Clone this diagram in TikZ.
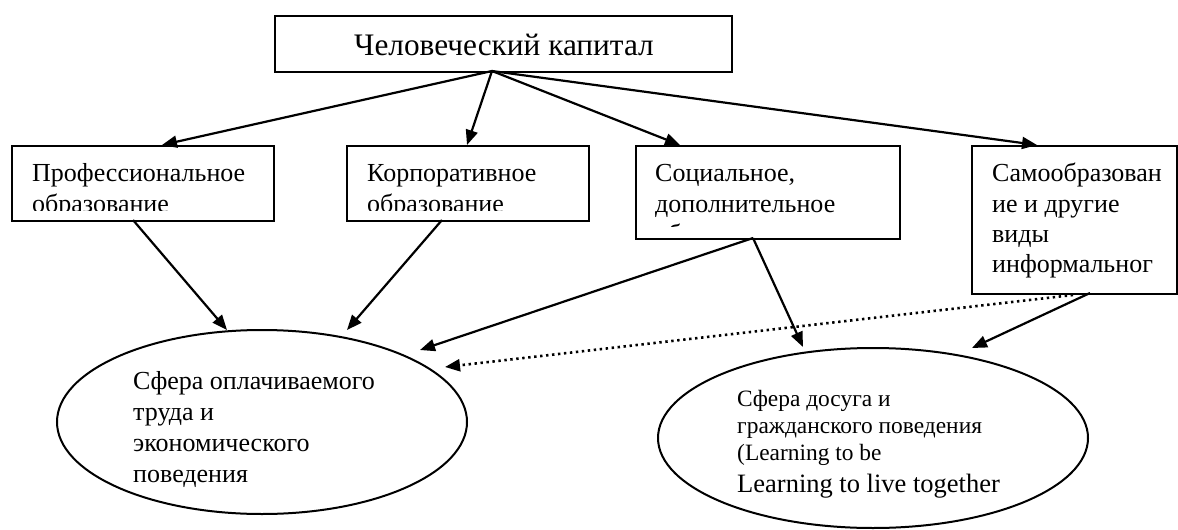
\documentclass[tikz,border=0pt]{standalone}
\usepackage{fontspec}
\setmainfont{Liberation Serif}
\usetikzlibrary{arrows.meta,shapes.geometric}
\begin{document}
\begin{tikzpicture}[x=1pt,y=-1pt,
  boxst/.style={draw, line width=2pt, inner sep=0pt, anchor=north west},
  ellst/.style={draw, ellipse, line width=2pt, inner sep=0pt},
  txt/.style={inner sep=0pt, anchor=base west, font=\fontsize{26}{30}\selectfont},
  txts/.style={inner sep=0pt, anchor=base west, font=\fontsize{23.4}{27}\selectfont},
  arr/.style={line width=2.2pt, -{Triangle[length=15pt,width=12pt]}},
  dotarr/.style={line width=2.6pt, dash pattern=on 2.4pt off 3.6pt, -{Triangle[length=15pt,width=12pt]}}]
\useasboundingbox (0,0) rectangle (1178,530);

% top box
\node[boxst, minimum width=457pt, minimum height=56pt] (top) at (274,15) {};
\node[inner sep=0pt, anchor=base, font=\fontsize{31.3}{36}\selectfont] (toptxt) at (504,55) {Человеческий капитал};

% level boxes
\node[boxst, minimum width=262pt, minimum height=75pt] (b1) at (11,145) {};
\node[boxst, minimum width=242pt, minimum height=75pt] (b2) at (346,145) {};
\node[boxst, minimum width=264pt, minimum height=93pt] (b3) at (635,145) {};
\node[boxst, minimum width=205pt, minimum height=148pt] (b4) at (971,145) {};

\begin{scope}
\clip (12,146) rectangle (272,210);
\node[txt] (b1a) at (32,181) {Профессиональное};
\node[txt] (b1b) at (32,212) {образование};
\end{scope}
\begin{scope}
\clip (347,146) rectangle (587,210);
\node[txt] (b2a) at (367,181) {Корпоративное};
\node[txt] (b2b) at (367,212) {образование};
\end{scope}
\begin{scope}
\clip (636,146) rectangle (898,226);
\node[txt] (b3a) at (655,181) {Социальное,};
\node[txt] (b3b) at (655,212) {дополнительное};
\node[txt] (b3c) at (655,242) {образование};
\end{scope}
\node[txt] (b4a) at (992,181) {Самообразован};
\node[txt] (b4b) at (992,212) {ие и другие};
\node[txt] (b4c) at (992,242) {виды};
\node[txt] (b4d) at (992,272) {информальног};

% ellipses
\node[ellst, minimum width=410pt, minimum height=184pt] (e1) at (262,422) {};
\node[ellst, minimum width=430pt, minimum height=180pt] (e2) at (873,438) {};

\node[txt] (e1a) at (133,389) {Сфера оплачиваемого};
\node[txt] (e1b) at (133,420) {труда и};
\node[txt] (e1c) at (133,451) {экономического};
\node[txt] (e1d) at (133,482) {поведения};

\node[txts] (e2a) at (737,406) {Сфера досуга и};
\node[txts] (e2b) at (737,433) {гражданского поведения};
\node[txts] (e2c) at (737,460) {(Learning to be};
\node[inner sep=0pt, anchor=base west, font=\fontsize{26.5}{30}\selectfont] (e2d) at (737,492) {Learning to live together};

% connector points
\coordinate (o0) at (492,71);
\coordinate (t1) at (162,145);
\coordinate (t2) at (467,145);
\coordinate (t3) at (680,145);
\coordinate (t4) at (1037,145);
\coordinate (o1) at (133,220);
\coordinate (o2) at (442,220);
\coordinate (o3) at (753,238);
\coordinate (o4) at (1090,293);
\coordinate (o4d) at (1073,295);
\coordinate (p1) at (227,330);
\coordinate (p2) at (347,330);
\coordinate (p3) at (420,350);
\coordinate (p4) at (445,367);
\coordinate (q1) at (803,347);
\coordinate (q2) at (972,348);

\draw[arr] (o0) -- (t1);
\draw[arr] (o0) -- (t2);
\draw[arr] (o0) -- (t3);
\draw[arr] (o0) -- (t4);
\draw[arr] (o1) -- (p1);
\draw[arr] (o2) -- (p2);
\draw[arr] (o3) -- (p3);
\draw[arr] (o3) -- (q1);
\draw[arr] (o4) -- (q2);
\draw[dotarr] (o4d) -- (p4);
\end{tikzpicture}
\end{document}
